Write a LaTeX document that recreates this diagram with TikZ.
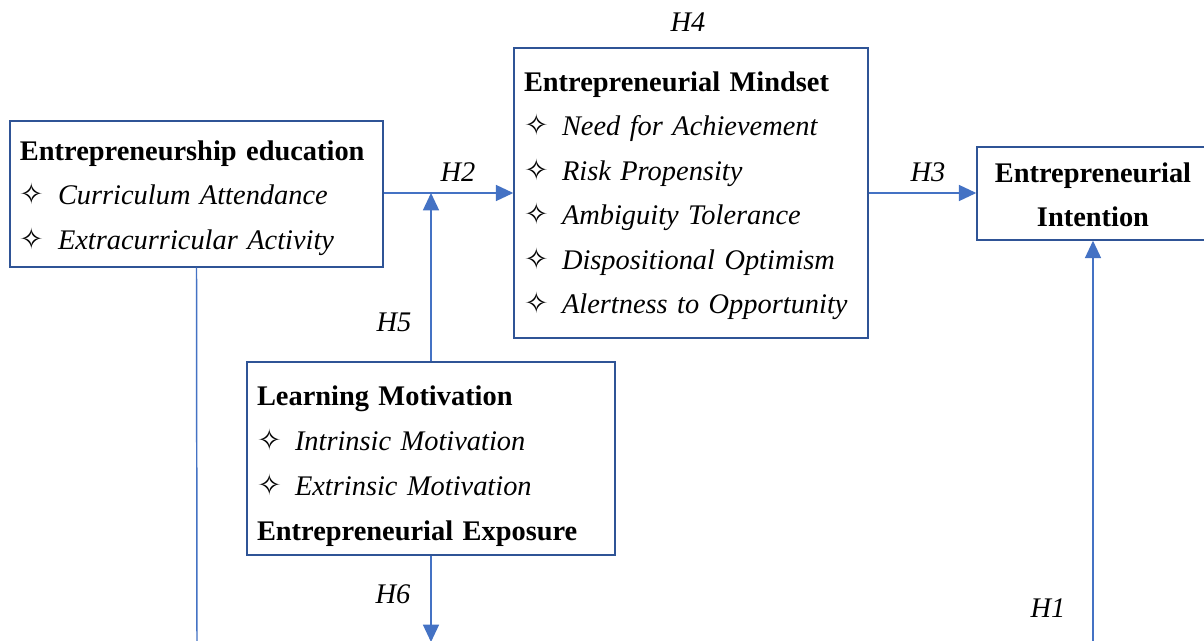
\documentclass[tikz,border=0pt]{standalone}
\usepackage{fontspec}
\setmainfont{Liberation Serif}
\newfontfamily\symfont{DejaVu Sans}
\usetikzlibrary{arrows.meta}

\definecolor{boxblue}{HTML}{2F5496}
\definecolor{lineblue}{HTML}{4472C4}

\newcommand{\itm}[1]{\makebox[28.5pt][l]{\symfont\fontsize{22}{22}\selectfont ✧}\textit{#1}}
\newcommand{\head}[2][20.5pt]{\rule{0pt}{#1}\textbf{#2}}

\tikzset{
    hbox/.style={draw=boxblue, line width=1.1pt, align=left, inner xsep=7.5pt,
        font=\fontsize{21.3pt}{33.4pt}\selectfont},
    link/.style={draw=lineblue, line width=1.1pt},
    hyp/.style={font=\fontsize{21.3pt}{24pt}\selectfont\itshape, inner sep=0pt}
}

\begin{document}
\begin{tikzpicture}[x=0.75pt,y=-0.75pt]
    \clip (0,0) rectangle (1204,641);
    \fill[white] (0,0) rectangle (1204,641);

    % boxes
    \node[hbox, text width=264.75pt, minimum height=109.5pt] (edu)
        at (196.5,194) {\head{Entrepreneurship education}\\
        \itm{Curriculum Attendance}\\
        \itm{Extracurricular Activity}};
    \node[hbox, text width=250.5pt, minimum height=217.5pt] (mind)
        at (691,193) {\head[19pt]{Entrepreneurial Mindset}\\
        \itm{Need for Achievement}\\
        \itm{Risk Propensity}\\
        \itm{Ambiguity Tolerance}\\
        \itm{Dispositional Optimism}\\
        \itm{Alertness to Opportunity}};
    \node[hbox, text width=261pt, minimum height=144.75pt,
        font=\fontsize{21.3pt}{33.75pt}\selectfont] (motiv)
        at (431,458.5) {\head[26.5pt]{Learning Motivation}\\
        \itm{Intrinsic Motivation}\\
        \itm{Extrinsic Motivation}\\
        \textbf{Entrepreneurial Exposure}};
    \node[hbox, align=center, text width=159pt, minimum height=69.75pt] (intent)
        at (1093,193.5) {\head[16.8pt]{Entrepreneurial}\\\textbf{Intention}};

    % loose ends at the bottom
    \coordinate (eduend) at (197,645);
    \coordinate (motivend) at (431,642);
    \coordinate (intentend) at (1093,645);

    % connectors
    \draw[link, -{Triangle[length=13pt, width=12pt]}]
        (edu.east |- 0,193) -- (mind.west |- 0,193);
    \draw[link, -{Triangle[length=13pt, width=12pt]}]
        (motiv.north) -- (motiv.north |- 0,193);
    \draw[link, -{Triangle[length=13pt, width=12pt]}]
        (mind.east |- 0,193) -- (intent.west |- 0,193);
    \draw[link, -{Triangle[length=13pt, width=12pt]}]
        (motiv.south) -- (motivend);
    \draw[link] (edu.south) -- (eduend);
    \draw[link, -{Triangle[length=13pt, width=12pt]}]
        (intentend) -- (intent.south);

    % hypothesis labels
    \node[hyp] (h4) at (688,22) {H4};
    \node[hyp] (h2) at (458,172) {H2};
    \node[hyp] (h3) at (928,172) {H3};
    \node[hyp] (h5) at (394,322) {H5};
    \node[hyp] (h6) at (393,594) {H6};
    \node[hyp] (h1) at (1048,608) {H1};
\end{tikzpicture}
\end{document}
